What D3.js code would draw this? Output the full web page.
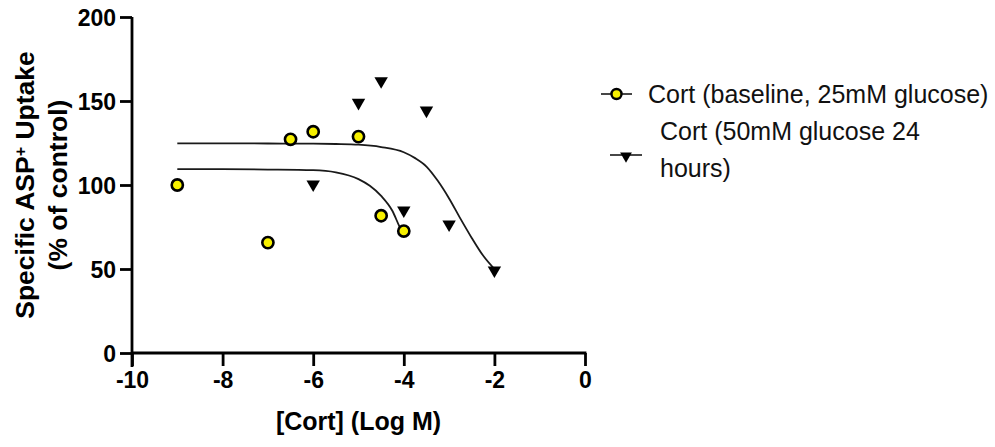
<!DOCTYPE html>
<html>
<head>
<meta charset="utf-8">
<script src="https://cdn.jsdelivr.net/npm/d3@7"></script>
<style>
  html, body { margin: 0; padding: 0; background: #fff; }
  svg { display: block; }
</style>
</head>
<body>
<svg id="chart" width="995" height="447"></svg>
<script>
// ---- Data ----
const seriesNames = ["Cort (baseline, 25mM glucose)", "Cort (50mM glucose 24 hours)"];

// Baseline (circles)
const baselineLogConc = [-9, -7, -6.5, -6, -5, -4.5, -4];
const baselineUptake  = [100, 65.7, 127.2, 131.7, 128.8, 81.7, 72.6];

// 50mM glucose 24h (inverted triangles)
const glucoseLogConc = [-6, -5, -4.5, -4, -3.5, -3, -2];
const glucoseUptake  = [101, 149.6, 162.5, 85.5, 145, 77.2, 49.8];

// Fitted curves
const baselineFitX = [-9, -8, -7, -6, -5.5, -5, -4.75, -4.5, -4.25, -4.1, -4];
const baselineFitY = [109.5, 109.4, 109.2, 108.8, 107.5, 103.5, 99.5, 93.5, 84.5, 75.5, 70];
const glucoseFitX  = [-9, -8, -7, -6, -5.5, -5, -4.5, -4, -3.75, -3.5, -3.25, -3, -2.75, -2.5, -2.25, -2];
const glucoseFitY  = [124.8, 124.8, 124.7, 124.6, 124.4, 124.0, 122.6, 119.5, 116, 111, 102.5, 92, 80, 68.5, 58, 50];

const xTicks = [-10, -8, -6, -4, -2, 0];
const yTicks = [0, 50, 100, 150, 200];

// ---- Layout ----
const svg = d3.select("#chart");
const x = d3.scaleLinear().domain([-10, 0]).range([132, 585]);
const y = d3.scaleLinear().domain([0, 200]).range([353, 17]);

const axisW = 2.8;
const tickFont = "bold 23px 'Liberation Sans', Arial, sans-serif";
const fmt = d => String(d);

// Y axis
const yAxis = svg.append("g").attr("transform", `translate(${x(-10)},0)`)
  .call(d3.axisLeft(y).tickValues(yTicks).tickSize(12).tickPadding(4).tickFormat(fmt));
yAxis.select(".domain").attr("stroke", "#000").attr("stroke-width", axisW)
  .attr("d", `M0,${y(200)}V${y(0) + 14}`);
yAxis.selectAll(".tick line").attr("stroke", "#000").attr("stroke-width", axisW);
yAxis.selectAll(".tick text").attr("fill", "#000").style("font", tickFont).attr("dy", "0.36em");

// X axis
const xAxis = svg.append("g").attr("transform", `translate(0,${y(0)})`)
  .call(d3.axisBottom(x).tickValues(xTicks).tickSize(13).tickPadding(6).tickFormat(fmt));
xAxis.select(".domain").attr("stroke", "#000").attr("stroke-width", axisW)
  .attr("d", `M${x(-10)},0H${x(0) + 1.4}`);
xAxis.selectAll(".tick line").attr("stroke", "#000").attr("stroke-width", axisW);
xAxis.selectAll(".tick text").attr("fill", "#000").style("font", tickFont);

// Axis titles
svg.append("text")
  .attr("x", (x(-10) + x(0)) / 2).attr("y", 430)
  .attr("text-anchor", "middle")
  .style("font", "bold 25px 'Liberation Sans', Arial, sans-serif")
  .text("[Cort] (Log M)");

const yTitle = svg.append("text")
  .attr("transform", `translate(0,${(y(0) + y(200)) / 2}) rotate(-90)`)
  .attr("text-anchor", "middle")
  .style("font", "bold 26.5px 'Liberation Sans', Arial, sans-serif");
const l1 = yTitle.append("tspan").attr("x", 0).attr("y", 34);
l1.append("tspan").text("Specific ASP");
l1.append("tspan").attr("baseline-shift", "super").style("font-size", "16px").text("+");
l1.append("tspan").text(" Uptake");
yTitle.append("tspan").attr("x", 0).attr("y", 67).text("(% of control)");

// Curves
const line = d3.line().x(d => x(d[0])).y(d => y(d[1])).curve(d3.curveMonotoneX);
svg.append("path").datum(d3.zip(glucoseFitX, glucoseFitY))
  .attr("d", line).attr("fill", "none").attr("stroke", "#1a1a1a").attr("stroke-width", 1.8);
svg.append("path").datum(d3.zip(baselineFitX, baselineFitY))
  .attr("d", line).attr("fill", "none").attr("stroke", "#1a1a1a").attr("stroke-width", 1.8);

// Markers
const tri = d3.symbol().type(d3.symbolTriangle).size(78);
svg.append("g").selectAll("path").data(d3.zip(glucoseLogConc, glucoseUptake)).join("path")
  .attr("d", tri)
  .attr("transform", d => `translate(${x(d[0])},${y(d[1]) + 1}) rotate(180)`)
  .attr("fill", "#000");

svg.append("g").selectAll("circle").data(d3.zip(baselineLogConc, baselineUptake)).join("circle")
  .attr("cx", d => x(d[0])).attr("cy", d => y(d[1])).attr("r", 5.6)
  .attr("fill", "#f7f000").attr("stroke", "#000").attr("stroke-width", 2.6);

// Legend
const legFont = "25px 'Liberation Sans', Arial, sans-serif";
const lg = svg.append("g");
lg.append("line").attr("x1", 601).attr("x2", 632).attr("y1", 94).attr("y2", 94)
  .attr("stroke", "#1a1a1a").attr("stroke-width", 1.6);
lg.append("circle").attr("cx", 616.5).attr("cy", 94).attr("r", 5)
  .attr("fill", "#f7f000").attr("stroke", "#000").attr("stroke-width", 2.4);
lg.append("text").attr("x", 648).attr("y", 103).style("font", legFont).attr("fill", "#111")
  .text(seriesNames[0]);

lg.append("line").attr("x1", 610).attr("x2", 642).attr("y1", 155).attr("y2", 155)
  .attr("stroke", "#1a1a1a").attr("stroke-width", 1.6);
lg.append("path").attr("d", d3.symbol().type(d3.symbolTriangle).size(60))
  .attr("transform", `translate(626,156) rotate(180)`).attr("fill", "#000");
const t2 = lg.append("text").style("font", legFont).attr("fill", "#111");
t2.append("tspan").attr("x", 660).attr("y", 140).text("Cort (50mM glucose 24");
t2.append("tspan").attr("x", 660).attr("y", 177).text("hours)");
</script>
</body>
</html>
